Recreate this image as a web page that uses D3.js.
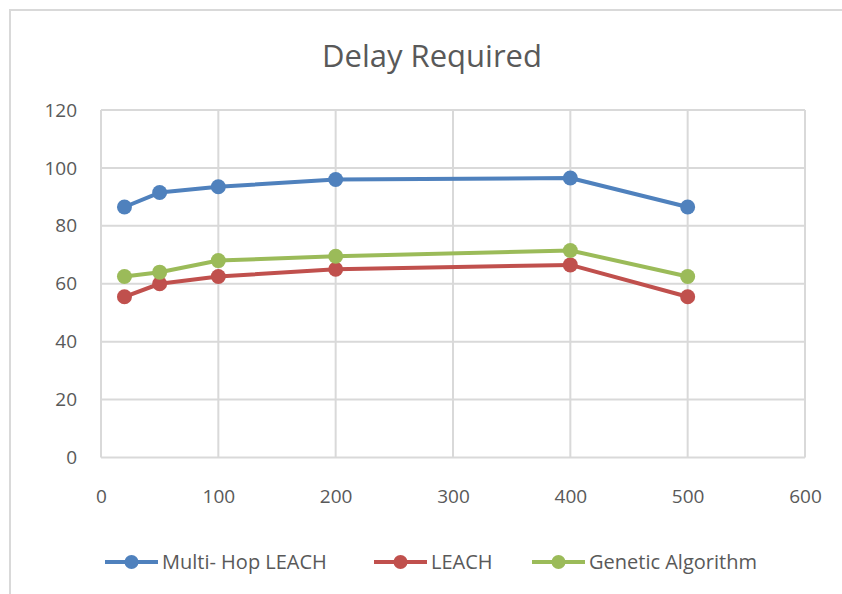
<!DOCTYPE html>
<html>
<head>
<meta charset="utf-8">
<script src="https://cdn.jsdelivr.net/npm/d3@7"></script>
<style>
  body { margin: 0; background: #fff; }
  text { font-family: "Open Sans", sans-serif; fill: #595959; }
</style>
</head>
<body>
<svg id="chart" width="842" height="594"></svg>
<script>
const xValues = [20, 50, 100, 200, 400, 500];
const multiHopLeach = [86.5, 91.5, 93.5, 96, 96.5, 86.5];
const leach = [55.5, 60, 62.5, 65, 66.5, 55.5];
const geneticAlgorithm = [62.5, 64, 68, 69.5, 71.5, 62.5];
const xTicks = [0, 100, 200, 300, 400, 500, 600];
const yTicks = [0, 20, 40, 60, 80, 100, 120];

const series = [
  { name: 'Multi- Hop LEACH', values: multiHopLeach, color: '#4f81bd' },
  { name: 'LEACH', values: leach, color: '#c0504d' },
  { name: 'Genetic Algorithm', values: geneticAlgorithm, color: '#9bbb59' }
];

const svg = d3.select('#chart');
const margin = { top: 110, left: 101, right: 37, bottom: 136 };
const width = 842, height = 594;

// Chart border
svg.append('rect')
  .attr('x', 10).attr('y', 10)
  .attr('width', 900).attr('height', 700)
  .attr('fill', 'none')
  .attr('stroke', '#d9d9d9')
  .attr('stroke-width', 2);

const x = d3.scaleLinear().domain([0, 600]).range([margin.left, width - margin.right]);
const y = d3.scaleLinear().domain([0, 120]).range([height - margin.bottom - 0.5, margin.top]);

// Gridlines
svg.append('g')
  .selectAll('line.h')
  .data(yTicks)
  .join('line')
  .attr('x1', x(0)).attr('x2', x(600))
  .attr('y1', d => y(d)).attr('y2', d => y(d))
  .attr('stroke', '#d9d9d9').attr('stroke-width', 2);
svg.append('g')
  .selectAll('line.v')
  .data(xTicks)
  .join('line')
  .attr('y1', y(0)).attr('y2', y(120))
  .attr('x1', d => x(d)).attr('x2', d => x(d))
  .attr('stroke', '#d9d9d9').attr('stroke-width', 2);

// Axes
const xAxis = svg.append('g')
  .attr('transform', `translate(0,${y(0)})`)
  .call(d3.axisBottom(x).tickValues(xTicks).tickSize(0).tickPadding(39));
const yAxis = svg.append('g')
  .attr('transform', `translate(${x(0)},0)`)
  .call(d3.axisLeft(y).tickValues(yTicks).tickSize(0).tickPadding(24));
[xAxis, yAxis].forEach(a => {
  a.select('.domain').remove();
  a.selectAll('text')
    .style('font-family', '"Open Sans", sans-serif')
    .style('font-size', '19px')
    .attr('fill', '#595959');
});
xAxis.selectAll('text').attr('dy', '0.35em');

// Title
svg.append('text')
  .attr('x', 432).attr('y', 67)
  .attr('text-anchor', 'middle')
  .style('font-size', '31px')
  .text('Delay Required');

// Lines and markers
const line = d3.line()
  .x((d, i) => x(xValues[i]))
  .y(d => y(d));

series.forEach(s => {
  svg.append('path')
    .datum(s.values)
    .attr('fill', 'none')
    .attr('stroke', s.color)
    .attr('stroke-width', 4)
    .attr('stroke-linejoin', 'round')
    .attr('d', line);
  svg.append('g')
    .selectAll('circle')
    .data(s.values)
    .join('circle')
    .attr('cx', (d, i) => x(xValues[i]))
    .attr('cy', d => y(d))
    .attr('r', 7.5)
    .attr('fill', s.color);
});

// Legend
const legendX = [105, 374, 532];
const legendY = 562;
series.forEach((s, i) => {
  const g = svg.append('g').attr('transform', `translate(${legendX[i]},${legendY})`);
  g.append('line')
    .attr('x1', 0).attr('x2', 53)
    .attr('stroke', s.color).attr('stroke-width', 4);
  g.append('circle')
    .attr('cx', 26.5).attr('r', 7)
    .attr('fill', s.color);
  g.append('text')
    .attr('x', 57).attr('dy', '0.35em')
    .style('font-size', '20px')
    .text(s.name);
});
</script>
</body>
</html>
